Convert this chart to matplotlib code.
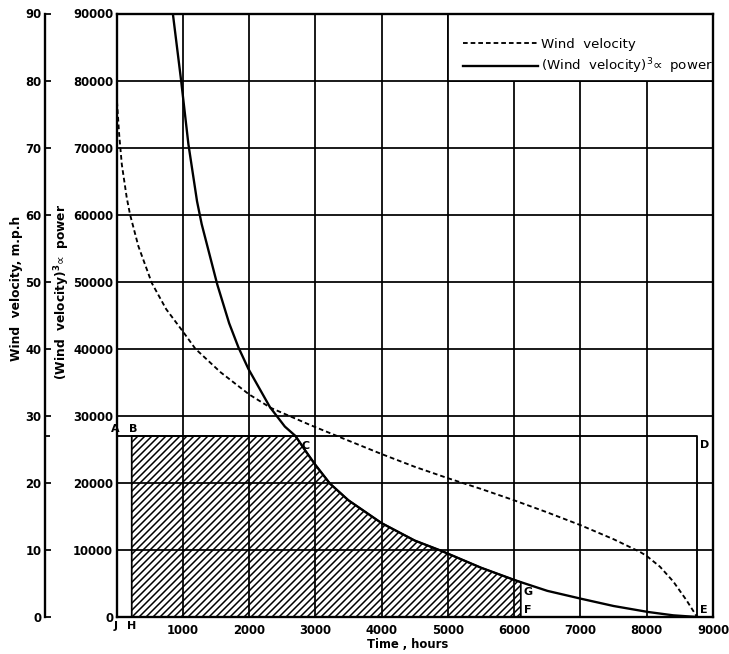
import matplotlib
matplotlib.use('Agg')
import matplotlib.pyplot as plt
from matplotlib.lines import Line2D
from matplotlib.patches import Rectangle
import numpy as np

# hatch spacing is tied to dpi, 84 gives roughly the spacing of the print
DPI = 84
W, H = 729, 654

#>> Data
vel_t = [0, 40, 80, 155, 205, 330, 533, 750, 1000, 1190, 1570, 2000, 2325, 2930,
         3500, 4000, 4500, 5000, 5500, 6000, 6500, 7000, 7500, 7900, 8000,
         8200, 8400, 8600, 8760]
vel_mph = [78, 72, 67.5, 62.5, 60, 55.3, 49.8, 45.9, 42.6, 40.0, 36.5, 33.2, 31.2, 28.6,
           26.3, 24.3, 22.4, 20.7, 19.1, 17.4, 15.6, 13.7, 11.6, 9.7, 9.1,
           7.5, 5.3, 2.5, 0]

pow_t = [850, 975, 1085, 1215, 1285, 1520, 1700, 1840, 1990, 2315, 2540, 2700, 2850,
         3000, 3220, 3500, 4000, 4500, 4880, 5000, 5500, 6010, 6100, 6500, 7020, 7500,
         8020, 8400, 8760]
pow_v = [90000, 80000, 70500, 62000, 58600, 49600, 43800, 40200, 37000, 31300, 28400,
         27000, 24800, 22700, 19900, 17400, 14000, 11400, 9950, 9450, 7350, 5500, 5200,
         3900, 2700, 1640, 750, 250, 0]

rated_power = 27000   # line A-D
t_B = 230             # B / H
t_C = 2700            # C
t_F = 6100            # G / F
t_E = 8760            # D / E

x_ticks = [1000, 2000, 3000, 4000, 5000, 6000, 7000, 8000, 9000]
pow_ticks = [0, 10000, 20000, 30000, 40000, 50000, 60000, 70000, 80000, 90000]
mph_ticks = [0, 10, 20, 30, 40, 50, 60, 70, 80, 90]

plt.rcParams['hatch.linewidth'] = 1.3
plt.rcParams['font.family'] = ['DejaVu Sans']

fig = plt.figure(figsize=(W / DPI, H / DPI), dpi=DPI)
# axes box in pixels of the reference: x 116.5..713, y 13.5..617
L, R, T, B = 116.5, 713, 13.5, 617
ax = fig.add_axes([L / W, 1 - B / H, (R - L) / W, (B - T) / H])

ax.set_xlim(0, 9000)
ax.set_ylim(0, 90000)
ax.set_xticks(x_ticks)
ax.set_xticklabels([str(v) for v in x_ticks])
ax.set_yticks(pow_ticks)
ax.set_yticklabels([str(v) for v in pow_ticks])
ax.grid(True, which='major', color='black', lw=1.5)
ax.set_axisbelow(True)
ax.tick_params(axis='both', length=0, labelsize=10, pad=3)
ax.tick_params(axis='x', pad=6)
for lbl in ax.get_xticklabels() + ax.get_yticklabels():
    lbl.set_fontweight('bold')
for s in ax.spines.values():
    s.set_linewidth(2)

# legend cell kept clear of grid
ax.add_patch(Rectangle((5000, 80000), 4000, 10000, facecolor='white',
                       edgecolor='black', lw=1.5, zorder=1))

#>> Curves
dash = (0, (2.5, 1.6))
ax.plot(vel_t, np.array(vel_mph) * 1000, color='black', lw=1.6, ls=dash, zorder=3)
ax.plot(pow_t, pow_v, color='black', lw=2.0, zorder=3)

#>> Hatched energy region H-B-C-G-F
pt = np.array(pow_t)
pv = np.array(pow_v)
g_val = pv[pt == t_F][0]
sel = (pt >= t_C) & (pt <= t_F)
poly_x = [t_B, t_B] + list(pt[sel]) + [t_F]
poly_y = [0, rated_power] + list(pv[sel]) + [0]
ax.fill(poly_x, poly_y, facecolor='none', edgecolor='black', hatch='////',
        lw=1.5, zorder=2)

# rectangle A-D-E
ax.plot([0, t_E, t_E], [rated_power, rated_power, 0], color='black', lw=1.6, zorder=3)

#>> Point letters
letters = [
    ('A', (0, rated_power), (-1, 2), 'center', 'bottom'),
    ('B', (t_B, rated_power), (1, 2), 'center', 'bottom'),
    ('C', (t_C, rated_power), (10, -10), 'center', 'center'),
    ('D', (t_E, rated_power), (3, -4), 'left', 'top'),
    ('E', (t_E, 0), (3, 2), 'left', 'bottom'),
    ('G', (t_F, g_val), (3, -10), 'left', 'center'),
    ('F', (t_F, 0), (3, 2), 'left', 'bottom'),
    ('J', (0, 0), (-1, -4), 'center', 'top'),
    ('H', (t_B, 0), (0, -4), 'center', 'top'),
]
for txt, xy, off, ha, va in letters:
    ax.annotate(txt, xy=xy, xytext=off, textcoords='offset pixels',
                ha=ha, va=va, fontsize=9.5, fontweight='bold', zorder=5)

#>> Second axis for wind velocity (m.p.h)
axv = ax.twinx()
axv.set_ylim(0, 90)
axv.yaxis.set_ticks_position('left')
axv.spines['left'].set_position(('axes', (45 - L) / (R - L)))
axv.spines['left'].set_linewidth(2)
for k in ['right', 'top', 'bottom']:
    axv.spines[k].set_visible(False)
axv.set_yticks(mph_ticks)
axv.set_yticklabels([str(v) for v in mph_ticks])
axv.set_yticks([rated_power / 1000], minor=True)
axv.tick_params(axis='y', which='both', direction='in', length=5, width=1.5,
                labelsize=10, pad=3)
axv.tick_params(axis='y', which='minor', length=4)
for lbl in axv.get_yticklabels():
    lbl.set_fontweight('bold')

#>> Labels
ax.set_xlabel('Time , hours', fontsize=10, fontweight='bold')
ax.xaxis.set_label_coords((408 - L) / (R - L), (B - 638) / (B - T))
fig.text(17 / W, 1 - 288 / H, 'Wind  velocity, m.p.h', rotation=90,
         ha='center', va='center', fontsize=10.5, fontweight='bold')
fig.text(62 / W, 1 - 292 / H, r'(Wind  velocity)$^{\mathbf{3}}\!\propto$ power', rotation=90,
         ha='center', va='center', fontsize=10.5, fontweight='bold')

handles = [Line2D([], [], color='black', lw=1.6, ls=dash),
           Line2D([], [], color='black', lw=2.0)]
ax.legend(handles, ['Wind  velocity', r'(Wind  velocity)$^{3}\!\propto$ power'],
          loc='center left', bbox_to_anchor=((463 - L) / (R - L), (B - 57) / (B - T)),
          frameon=False, fontsize=11.5, handlelength=5.6, handletextpad=0.25,
          borderpad=0, borderaxespad=0, labelspacing=0.45)

fig.savefig('out.png', dpi=DPI)
